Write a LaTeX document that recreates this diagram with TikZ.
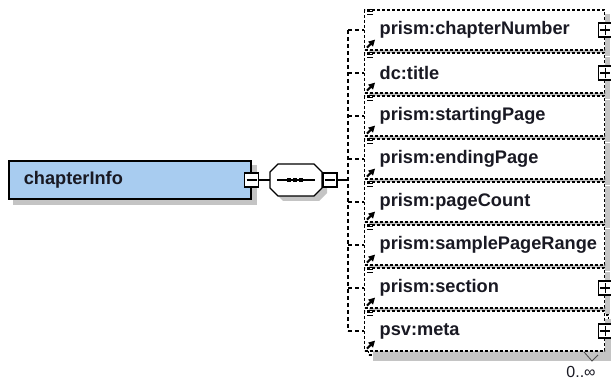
\documentclass[tikz,border=0pt]{standalone}
\usepackage{fontspec}
\setmainfont{Liberation Sans}
\usetikzlibrary{arrows.meta,calc}
\pgfdeclarelayer{background}
\pgfsetlayers{background,main}
\definecolor{elemblue}{RGB}{168,204,240}
\definecolor{shgrey}{RGB}{196,196,196}
\definecolor{txt}{RGB}{25,25,35}
\begin{document}
\begin{tikzpicture}[x=1pt,y=-1pt,
  lbl/.style={font=\fontsize{18.2}{20}\selectfont\bfseries, text=txt},
  elem/.style={lbl, draw, dash pattern=on 3pt off 2pt, line width=1.3pt, fill=white,
    minimum height=40pt, text width=210pt, align=left, inner xsep=15pt, inner ysep=0pt, anchor=west},
  pm/.style={draw, fill=white, minimum size=14pt, inner sep=0pt, line width=1.2pt},
  minusbox/.style={pm, path picture={\draw[line width=1.2pt] ([xshift=2pt]path picture bounding box.west) -- ([xshift=-2pt]path picture bounding box.east);}},
  plusbox/.style={pm, path picture={\draw[line width=1.2pt] ([xshift=2pt]path picture bounding box.west) -- ([xshift=-2pt]path picture bounding box.east) ([yshift=-2pt]path picture bounding box.north) -- ([yshift=2pt]path picture bounding box.south);}},
  conn/.style={line width=1.3pt},
  dconn/.style={line width=1.3pt, dash pattern=on 4pt off 3pt},
  icon/.style={line width=1.1pt}
]
\useasboundingbox (0,0) rectangle (611,382);
\clip (0,0) rectangle (611,382);

% root element
\node[lbl, draw, line width=1.6pt, fill=elemblue, minimum height=38pt, text width=212pt,
  align=left, inner xsep=15pt, inner ysep=0pt, anchor=west]
  (root) at (8,180) {chapterInfo};
\node[minusbox] (rootm) at (root.east) {};

% sequence compositor
\node[minimum width=52pt, minimum height=32pt, inner sep=0pt] (seq) at (296,180) {};
\fill[shgrey] (283,169) -- (319,169) -- (327,177) -- (327,193) -- (319,201) -- (283,201) -- (275,193) -- (275,177) -- cycle;
\draw[line width=1.3pt, fill=white] (278,164) -- (314,164) -- (322,172) -- (322,188) -- (314,196) -- (278,196) -- (270,188) -- (270,172) -- cycle;
\draw[line width=1.3pt] (277,180) -- (315,180);
\foreach \x in {289,295,301} \fill (\x-2,178) rectangle (\x+2,182);
\node[minusbox] (seqm) at (330,180) {};
\draw[conn] (rootm.east) -- (seq.west);
\coordinate (spine) at (348,180);
\draw[conn] (seqm.east) -- (spine);

% children
\node[elem] (e1) at (364,30) {prism:chapterNumber};
\node[elem] (e2) at (364,73) {dc:title};
\node[elem] (e3) at (364,116) {prism:startingPage};
\node[elem] (e4) at (364,159) {prism:endingPage};
\node[elem] (e5) at (364,202) {prism:pageCount};
\node[elem] (e6) at (364,245) {prism:samplePageRange};
\node[elem] (e7) at (364,288) {prism:section};
\begin{pgfonlayer}{background}
\node[elem] (e8b) at (368,335) {};
\end{pgfonlayer}
\node[elem] (e8) at (364,331) {psv:meta};

% shadows
\begin{pgfonlayer}{background}
\foreach \n in {root,e1,e2,e3,e4,e5,e6,e7,e8b}
  \fill[shgrey] ($(\n.north west)+(5,5)$) rectangle ($(\n.south east)+(5,5)$);
\end{pgfonlayer}

\foreach \n in {e1,e2,e7,e8} \node[plusbox] at (\n.east) {};

\foreach \n in {e1,e2,e3,e4,e5,e6,e7,e8}{
  \draw[icon] ($(\n.north west)+(5,0)$) -- ++(4,0);
  \draw[icon] ($(\n.north west)+(3,2.5)$) -- ++(6,0);
  \draw[icon] ($(\n.north west)+(3,5)$) -- ++(6,0);
  \draw[line width=2pt] ($(\n.south west)+(3,-3)$) -- ++(4.5,-4.5);
  \fill ($(\n.south west)+(11,-11)$) -- ($(\n.south west)+(4,-9)$) -- ($(\n.south west)+(9,-4)$) -- cycle;
  \draw[dconn] (spine |- \n.west) -- (\n.west);
}
\draw[dconn] (spine |- e1.west) -- (spine |- e8.west);

% multiplicity
\draw[line width=0.8pt, black!70] (584,352) -- (592,361) -- (598,355);
\node[font=\fontsize{16}{16}\selectfont, text=txt, inner sep=0pt] (mult) at (581,372) {0..∞};
\end{tikzpicture}
\end{document}
